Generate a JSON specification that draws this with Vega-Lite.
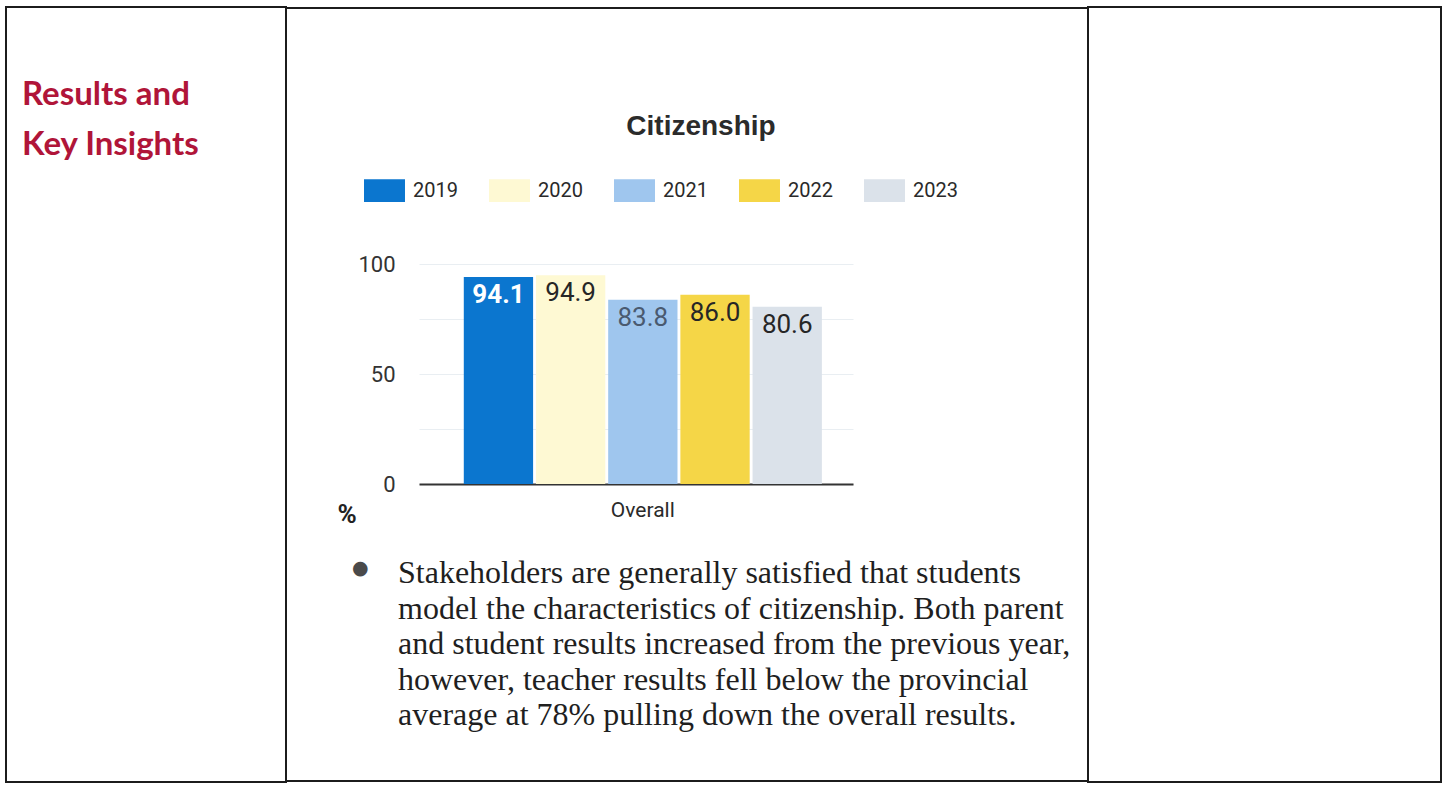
{
  "$schema": "https://vega.github.io/schema/vega-lite/v6.json",
  "padding": {"left": 5, "top": 6, "right": 0, "bottom": 0},
  "background": "white",
  "config": {
    "font": "Roboto",
    "view": {"stroke": null},
    "concat": {"spacing": 0}
  },
  "spacing": 0,
  "hconcat": [
    {
      "width": 280,
      "height": 775,
      "view": {"stroke": "#1c1c1c", "strokeWidth": 2},
      "data": {"values": []},
      "mark": "point",
      "title": {
        "text": ["Results and", "Key Insights"],
        "anchor": "start",
        "orient": "top",
        "frame": "group",
        "dx": 16,
        "offset": -181,
        "baseline": "alphabetic",
        "font": "Lato",
        "fontSize": 33,
        "fontWeight": "bold",
        "color": "#b01539",
        "lineHeight": 50
      }
    },
    {
      "spacing": 0,
      "vconcat": [
        {
          "width": 800,
          "height": 2,
          "view": {"fill": "#1c1c1c", "stroke": null},
          "data": {"values": []},
          "mark": "point"
        },
        {
          "width": 800,
          "height": 244,
          "data": {"values": []},
          "mark": "point",
          "title": {
            "text": "Citizenship",
            "anchor": "middle",
            "orient": "top",
            "frame": "group",
            "dx": 14,
            "offset": -154,
            "baseline": "alphabetic",
            "font": "Liberation Sans",
            "fontSize": 28,
            "fontWeight": "bold",
            "color": "#2b2b2b"
          }
        },
        {
          "spacing": 0,
          "hconcat": [
            {
              "width": 50,
              "height": 220,
              "data": {"values": []},
              "mark": "point"
            },
            {
              "width": 434,
              "height": 220,
              "data": {
                "values": [
                  {"category": "Overall", "year": "2019", "value": 94.1},
                  {"category": "Overall", "year": "2020", "value": 94.9},
                  {"category": "Overall", "year": "2021", "value": 83.8},
                  {"category": "Overall", "year": "2022", "value": 86.0},
                  {"category": "Overall", "year": "2023", "value": 80.6}
                ]
              },
              "encoding": {
                "x": {
                  "field": "category",
                  "type": "nominal",
                  "scale": {"paddingOuter": 0.106, "paddingInner": 0, "align": 0.59},
                  "axis": {
                    "title": null,
                    "domainColor": "#333333",
                    "domainWidth": 2,
                    "ticks": false,
                    "labelAngle": 0,
                    "labelPadding": 15,
                    "labelFontSize": 21,
                    "labelFont": "Roboto",
                    "labelColor": "#2a2a2a",
                    "grid": false
                  }
                },
                "xOffset": {
                  "field": "year",
                  "type": "nominal",
                  "scale": {"paddingInner": 0.04}
                },
                "y": {
                  "field": "value",
                  "type": "quantitative",
                  "scale": {"domain": [0, 100]},
                  "axis": {
                    "values": [0, 25, 50, 75, 100],
                    "labelExpr": "datum.value % 50 === 0 ? datum.label : ''",
                    "title": "%",
                    "titleAngle": 0,
                    "titleX": -82,
                    "titleY": 250,
                    "titleAlign": "left",
                    "titleBaseline": "middle",
                    "titleFont": "Roboto",
                    "titleFontSize": 26,
                    "titleFontWeight": "bold",
                    "titleColor": "#222222",
                    "domain": false,
                    "ticks": false,
                    "labelPadding": 24,
                    "labelFontSize": 22,
                    "labelFont": "Roboto",
                    "labelColor": "#333333",
                    "gridColor": "#e9eef2",
                    "gridWidth": 1
                  }
                }
              },
              "layer": [
                {
                  "mark": {"type": "bar"},
                  "encoding": {
                    "color": {
                      "field": "year",
                      "type": "nominal",
                      "scale": {
                        "domain": ["2019", "2020", "2021", "2022", "2023"],
                        "range": ["#0b76cf", "#fef9d3", "#9fc6ee", "#f5d647", "#dbe2ea"]
                      },
                      "legend": {
                        "orient": "none",
                        "legendX": 358,
                        "legendY": 163,
                        "direction": "horizontal",
                        "columns": 5,
                        "title": null,
                        "symbolType": "M-1,-0.55H1V0.55H-1Z",
                        "symbolSize": 1680,
                        "symbolStrokeWidth": 0,
                        "symbolOpacity": 1,
                        "labelFontSize": 20,
                        "labelFont": "Roboto",
                        "labelColor": "#2a2a2a",
                        "labelOffset": 8,
                        "columnPadding": 31
                      }
                    }
                  }
                },
                {
                  "transform": [{"filter": "datum.year === '2019'"}],
                  "mark": {"type": "text", "baseline": "top", "dy": 5, "fontSize": 26, "font": "Roboto", "fontWeight": "bold", "color": "#ffffff"},
                  "encoding": {
                    "text": {"field": "value", "type": "quantitative", "format": ".1f"}
                  }
                },
                {
                  "transform": [{"filter": "datum.year !== '2019'"}],
                  "mark": {"type": "text", "baseline": "top", "dy": 5, "fontSize": 26, "font": "Roboto", "fontWeight": "normal"},
                  "encoding": {
                    "text": {"field": "value", "type": "quantitative", "format": ".1f"},
                    "color": {
                      "condition": {"test": "datum.year === '2021'", "value": "#4a5a70"},
                      "value": "#262626"
                    }
                  }
                }
              ]
            }
          ]
        },
        {
          "spacing": 0,
          "hconcat": [
            {
              "width": 111,
              "height": 253,
              "data": {"values": []},
              "mark": "point",
              "title": {
                "text": "●",
                "anchor": "start",
                "orient": "top",
                "frame": "group",
                "dx": 65,
                "offset": -60,
                "baseline": "middle",
                "font": "DejaVu Sans",
                "fontSize": 19,
                "fontWeight": "normal",
                "color": "#4a4a4a"
              }
            },
            {
              "width": 689,
              "height": 253,
              "data": {"values": []},
              "mark": "point",
              "title": {
                "text": [
                  "Stakeholders are generally satisfied that students",
                  "model the characteristics of citizenship.  Both parent",
                  "and student results increased from the previous year,",
                  "however, teacher results fell below the provincial",
                  "average at 78% pulling down the overall results."
                ],
                "anchor": "start",
                "orient": "top",
                "frame": "group",
                "dx": 0,
                "offset": -230,
                "baseline": "alphabetic",
                "font": "Liberation Serif",
                "fontSize": 32,
                "fontWeight": "normal",
                "color": "#1f1f1f",
                "lineHeight": 35.5
              }
            }
          ]
        },
        {
          "width": 800,
          "height": 2,
          "view": {"fill": "#1c1c1c", "stroke": null},
          "data": {"values": []},
          "mark": "point"
        }
      ]
    },
    {
      "width": 353,
      "height": 775,
      "view": {"stroke": "#1c1c1c", "strokeWidth": 2},
      "data": {"values": []},
      "mark": "point"
    }
  ]
}
